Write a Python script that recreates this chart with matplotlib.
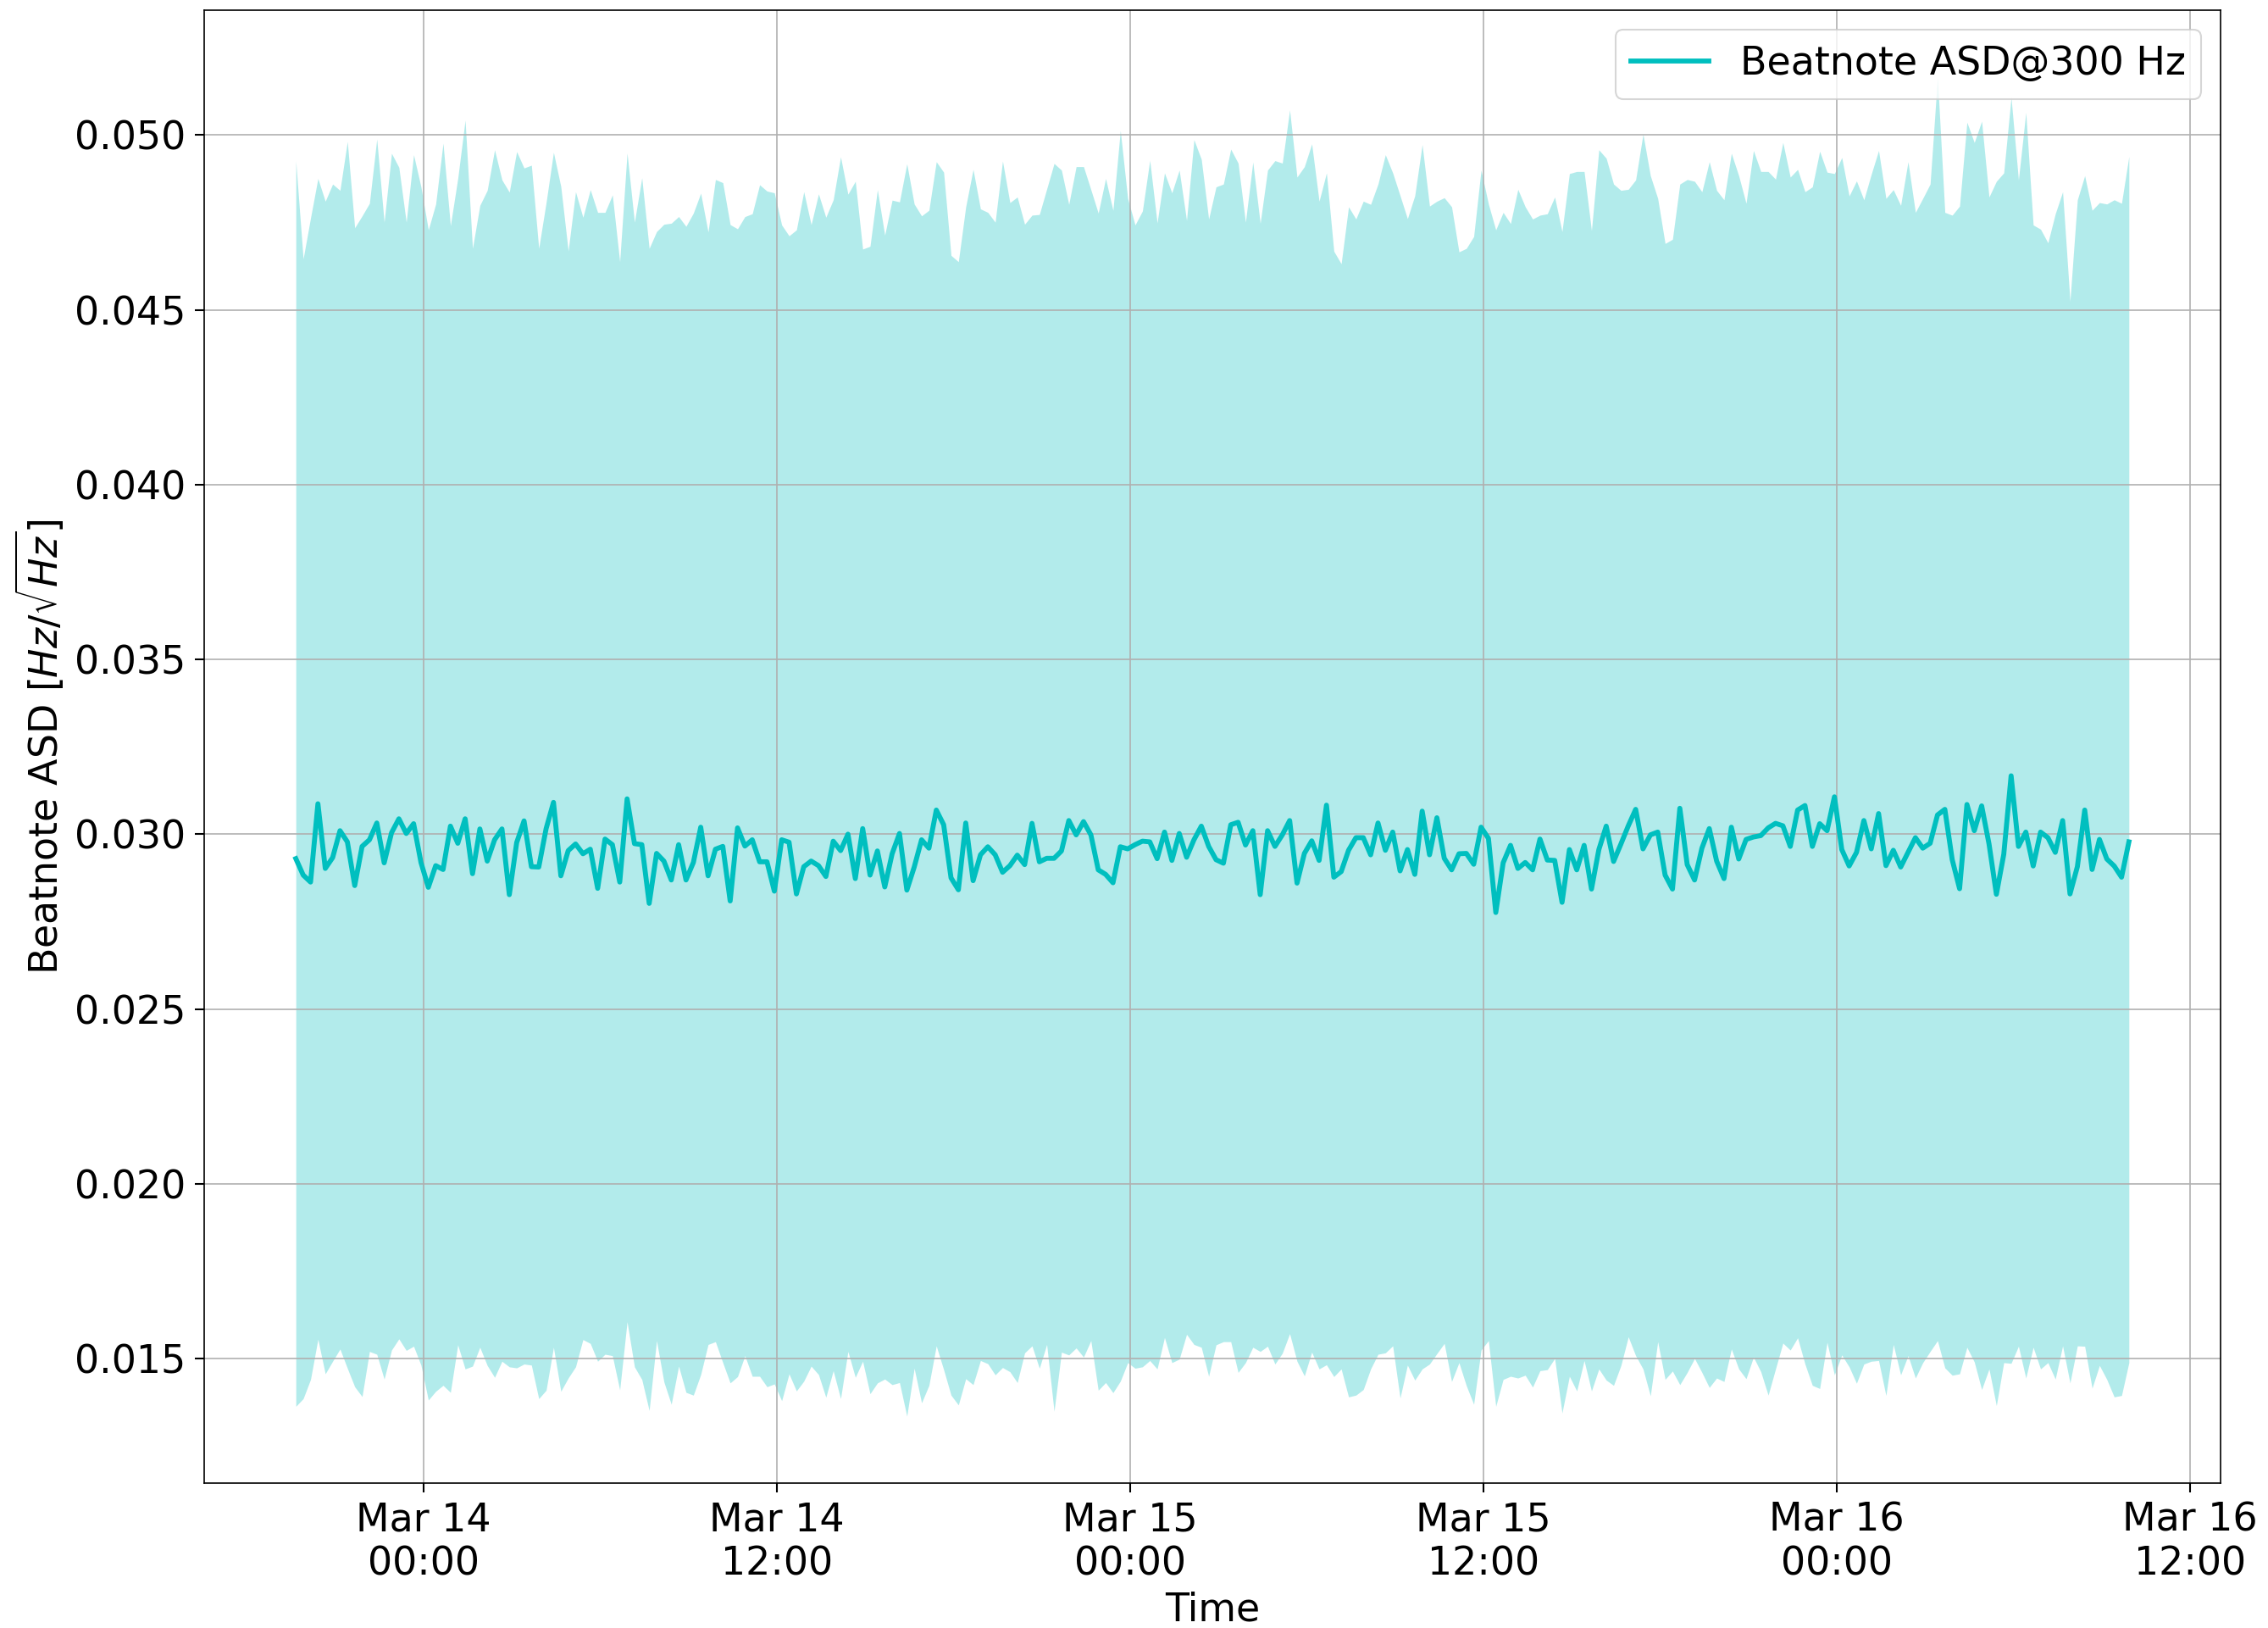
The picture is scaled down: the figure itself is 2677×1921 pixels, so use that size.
import numpy as np
import pandas as pd
import matplotlib
matplotlib.use("Agg")
import matplotlib.pyplot as plt
import matplotlib.dates as mdates

# ---- data -------------------------------------------------------------
start_time = "2023-03-13 19:40"
sample_period = "15min"

asd_mean = [
    0.02930, 0.02883, 0.02863, 0.03087, 0.02902, 0.02933, 0.03010, 0.02978, 0.02853, 0.02965,
    0.02984, 0.03032, 0.02918, 0.03004, 0.03044, 0.03002, 0.03030, 0.02919, 0.02848, 0.02910,
    0.02899, 0.03023, 0.02974, 0.03044, 0.02887, 0.03015, 0.02923, 0.02984, 0.03015, 0.02827,
    0.02976, 0.03038, 0.02907, 0.02906, 0.03016, 0.03091, 0.02881, 0.02953, 0.02972, 0.02944,
    0.02957, 0.02845, 0.02986, 0.02970, 0.02863, 0.03101, 0.02973, 0.02970, 0.02802, 0.02945,
    0.02923, 0.02869, 0.02970, 0.02869, 0.02919, 0.03020, 0.02881, 0.02957, 0.02965, 0.02809,
    0.03018, 0.02966, 0.02984, 0.02921, 0.02921, 0.02837, 0.02984, 0.02977, 0.02829, 0.02907,
    0.02923, 0.02910, 0.02879, 0.02980, 0.02953, 0.03000, 0.02873, 0.03016, 0.02883, 0.02952,
    0.02849, 0.02944, 0.03002, 0.02840, 0.02906, 0.02984, 0.02960, 0.03069, 0.03027, 0.02875,
    0.02841, 0.03032, 0.02867, 0.02941, 0.02964, 0.02941, 0.02891, 0.02910, 0.02940, 0.02913,
    0.03031, 0.02921, 0.02931, 0.02931, 0.02952, 0.03039, 0.02998, 0.03036, 0.02998, 0.02898,
    0.02885, 0.02861, 0.02964, 0.02958, 0.02970, 0.02980, 0.02978, 0.02930, 0.03006, 0.02925,
    0.03002, 0.02934, 0.02984, 0.03023, 0.02965, 0.02927, 0.02917, 0.03027, 0.03034, 0.02969,
    0.03010, 0.02827, 0.03010, 0.02965, 0.02998, 0.03039, 0.02860, 0.02945, 0.02981, 0.02925,
    0.03083, 0.02877, 0.02893, 0.02954, 0.02990, 0.02990, 0.02941, 0.03032, 0.02954, 0.03006,
    0.02895, 0.02956, 0.02885, 0.03066, 0.02941, 0.03047, 0.02931, 0.02898, 0.02944, 0.02945,
    0.02914, 0.03020, 0.02988, 0.02776, 0.02918, 0.02968, 0.02902, 0.02919, 0.02898, 0.02986,
    0.02926, 0.02925, 0.02805, 0.02956, 0.02898, 0.02968, 0.02843, 0.02956, 0.03023, 0.02922,
    0.02972, 0.03024, 0.03071, 0.02958, 0.02998, 0.03006, 0.02883, 0.02843, 0.03074, 0.02913,
    0.02869, 0.02960, 0.03016, 0.02923, 0.02873, 0.03020, 0.02929, 0.02985, 0.02992, 0.02996,
    0.03018, 0.03031, 0.03024, 0.02965, 0.03069, 0.03082, 0.02965, 0.03030, 0.03010, 0.03107,
    0.02956, 0.02909, 0.02948, 0.03039, 0.02958, 0.03059, 0.02910, 0.02954, 0.02906, 0.02948,
    0.02990, 0.02960, 0.02974, 0.03055, 0.03071, 0.02927, 0.02844, 0.03085, 0.03010, 0.03081,
    0.02972, 0.02828, 0.02942, 0.03167, 0.02965, 0.03006, 0.02909, 0.03006, 0.02990, 0.02948,
    0.03039, 0.02829, 0.02907, 0.03069, 0.02899, 0.02985, 0.02929, 0.02909, 0.02877, 0.02978,
]

asd_upper = [
    0.04926, 0.04646, 0.04763, 0.04876, 0.04811, 0.04860, 0.04842, 0.04982, 0.04735, 0.04769,
    0.04805, 0.04989, 0.04751, 0.04948, 0.04908, 0.04751, 0.04944, 0.04852, 0.04729, 0.04803,
    0.04977, 0.04741, 0.04876, 0.05043, 0.04676, 0.04799, 0.04842, 0.04958, 0.04872, 0.04837,
    0.04953, 0.04906, 0.04914, 0.04676, 0.04807, 0.04951, 0.04853, 0.04669, 0.04838, 0.04765,
    0.04844, 0.04779, 0.04779, 0.04829, 0.04638, 0.04949, 0.04751, 0.04878, 0.04676, 0.04724,
    0.04745, 0.04748, 0.04767, 0.04739, 0.04777, 0.04834, 0.04723, 0.04873, 0.04864, 0.04744,
    0.04732, 0.04767, 0.04775, 0.04858, 0.04840, 0.04835, 0.04743, 0.04712, 0.04729, 0.04838,
    0.04744, 0.04832, 0.04765, 0.04815, 0.04938, 0.04831, 0.04868, 0.04674, 0.04682, 0.04844,
    0.04714, 0.04814, 0.04809, 0.04918, 0.04803, 0.04769, 0.04785, 0.04924, 0.04894, 0.04656,
    0.04638, 0.04795, 0.04902, 0.04789, 0.04779, 0.04751, 0.04926, 0.04807, 0.04823, 0.04745,
    0.04771, 0.04773, 0.04846, 0.04919, 0.04900, 0.04802, 0.04910, 0.04910, 0.04844, 0.04777,
    0.04876, 0.04785, 0.05013, 0.04819, 0.04743, 0.04783, 0.04928, 0.04749, 0.04892, 0.04835,
    0.04900, 0.04756, 0.04987, 0.04931, 0.04760, 0.04852, 0.04860, 0.04960, 0.04920, 0.04751,
    0.04923, 0.04748, 0.04900, 0.04927, 0.04920, 0.05072, 0.04880, 0.04910, 0.04975, 0.04811,
    0.04892, 0.04668, 0.04632, 0.04795, 0.04760, 0.04811, 0.04802, 0.04860, 0.04944, 0.04892,
    0.04827, 0.04761, 0.04827, 0.04973, 0.04797, 0.04811, 0.04821, 0.04795, 0.04666, 0.04676,
    0.04710, 0.04900, 0.04803, 0.04729, 0.04779, 0.04747, 0.04845, 0.04795, 0.04760, 0.04771,
    0.04775, 0.04823, 0.04724, 0.04890, 0.04896, 0.04896, 0.04727, 0.04958, 0.04934, 0.04860,
    0.04842, 0.04845, 0.04872, 0.05003, 0.04884, 0.04819, 0.04690, 0.04702, 0.04860, 0.04873,
    0.04868, 0.04838, 0.04924, 0.04842, 0.04815, 0.04948, 0.04884, 0.04805, 0.04956, 0.04896,
    0.04896, 0.04874, 0.04979, 0.04880, 0.04902, 0.04838, 0.04852, 0.04954, 0.04894, 0.04890,
    0.04936, 0.04826, 0.04869, 0.04815, 0.04888, 0.04956, 0.04819, 0.04844, 0.04799, 0.04924,
    0.04779, 0.04819, 0.04860, 0.05166, 0.04779, 0.04771, 0.04797, 0.05037, 0.04979, 0.05040,
    0.04823, 0.04868, 0.04892, 0.05108, 0.04872, 0.05065, 0.04743, 0.04731, 0.04692, 0.04775,
    0.04838, 0.04525, 0.04815, 0.04884, 0.04785, 0.04807, 0.04803, 0.04815, 0.04805, 0.04939,
]

asd_lower = [
    0.01363, 0.01385, 0.01440, 0.01555, 0.01456, 0.01492, 0.01527, 0.01472, 0.01419, 0.01391,
    0.01520, 0.01512, 0.01441, 0.01524, 0.01556, 0.01523, 0.01535, 0.01481, 0.01381, 0.01406,
    0.01423, 0.01403, 0.01539, 0.01470, 0.01478, 0.01532, 0.01480, 0.01446, 0.01492, 0.01476,
    0.01473, 0.01484, 0.01481, 0.01385, 0.01409, 0.01532, 0.01406, 0.01444, 0.01476, 0.01554,
    0.01543, 0.01492, 0.01512, 0.01508, 0.01410, 0.01605, 0.01476, 0.01440, 0.01351, 0.01551,
    0.01433, 0.01369, 0.01478, 0.01403, 0.01395, 0.01454, 0.01540, 0.01548, 0.01488, 0.01430,
    0.01448, 0.01508, 0.01449, 0.01449, 0.01419, 0.01427, 0.01379, 0.01456, 0.01407, 0.01435,
    0.01478, 0.01454, 0.01389, 0.01465, 0.01385, 0.01520, 0.01446, 0.01492, 0.01399, 0.01430,
    0.01441, 0.01425, 0.01431, 0.01335, 0.01472, 0.01373, 0.01423, 0.01536, 0.01468, 0.01395,
    0.01367, 0.01442, 0.01425, 0.01494, 0.01485, 0.01453, 0.01474, 0.01462, 0.01431, 0.01516,
    0.01536, 0.01472, 0.01540, 0.01349, 0.01518, 0.01510, 0.01530, 0.01504, 0.01551, 0.01409,
    0.01431, 0.01402, 0.01435, 0.01488, 0.01472, 0.01476, 0.01494, 0.01470, 0.01560, 0.01488,
    0.01498, 0.01569, 0.01540, 0.01532, 0.01449, 0.01539, 0.01548, 0.01548, 0.01460, 0.01488,
    0.01532, 0.01520, 0.01535, 0.01484, 0.01515, 0.01571, 0.01492, 0.01450, 0.01518, 0.01470,
    0.01482, 0.01448, 0.01470, 0.01390, 0.01395, 0.01411, 0.01470, 0.01512, 0.01516, 0.01536,
    0.01387, 0.01481, 0.01438, 0.01470, 0.01484, 0.01514, 0.01543, 0.01434, 0.01488, 0.01422,
    0.01369, 0.01524, 0.01551, 0.01363, 0.01440, 0.01449, 0.01444, 0.01452, 0.01418, 0.01465,
    0.01468, 0.01500, 0.01344, 0.01449, 0.01407, 0.01494, 0.01407, 0.01470, 0.01438, 0.01423,
    0.01480, 0.01562, 0.01508, 0.01470, 0.01393, 0.01548, 0.01440, 0.01464, 0.01425, 0.01460,
    0.01500, 0.01460, 0.01417, 0.01444, 0.01434, 0.01527, 0.01470, 0.01442, 0.01504, 0.01462,
    0.01395, 0.01470, 0.01544, 0.01524, 0.01559, 0.01484, 0.01423, 0.01414, 0.01546, 0.01453,
    0.01510, 0.01476, 0.01429, 0.01484, 0.01492, 0.01494, 0.01394, 0.01540, 0.01453, 0.01508,
    0.01444, 0.01488, 0.01520, 0.01551, 0.01473, 0.01452, 0.01456, 0.01532, 0.01490, 0.01411,
    0.01470, 0.01365, 0.01488, 0.01486, 0.01535, 0.01444, 0.01532, 0.01470, 0.01488, 0.01441,
    0.01536, 0.01430, 0.01536, 0.01535, 0.01415, 0.01480, 0.01440, 0.01390, 0.01394, 0.01488,
]

series_label = "Beatnote ASD@300 Hz"
x_label = "Time"
y_label = r"Beatnote ASD $[Hz/\sqrt{Hz}]$"

# ---- figure -----------------------------------------------------------
DPI = 150
fig = plt.figure(figsize=(2678 / DPI, 1921 / DPI), dpi=DPI)
ax = fig.add_axes([241 / 2678, 1 - 1750 / 1921, (2621 - 241) / 2678, (1750 - 12) / 1921])

times = pd.date_range(start_time, periods=len(asd_mean), freq=sample_period)

ax.fill_between(times, asd_lower, asd_upper, color="c", alpha=0.3, linewidth=0)
ax.plot(times, asd_mean, color="c", linewidth=2.8, label=series_label)

ax.xaxis.set_major_locator(mdates.HourLocator(byhour=[0, 12]))
ax.xaxis.set_major_formatter(mdates.DateFormatter("%b %d\n%H:%M"))

ax.grid(True)
ax.tick_params(labelsize=22, length=5.5, width=1.0, pad=5)
ax.set_xlabel(x_label, fontsize=22)
ax.set_ylabel(y_label, fontsize=22)
for lbl in ax.get_xticklabels():
    lbl.set_horizontalalignment("center")

ax.legend(loc="upper right", fontsize=22)

fig.savefig("out.png", dpi=DPI)
